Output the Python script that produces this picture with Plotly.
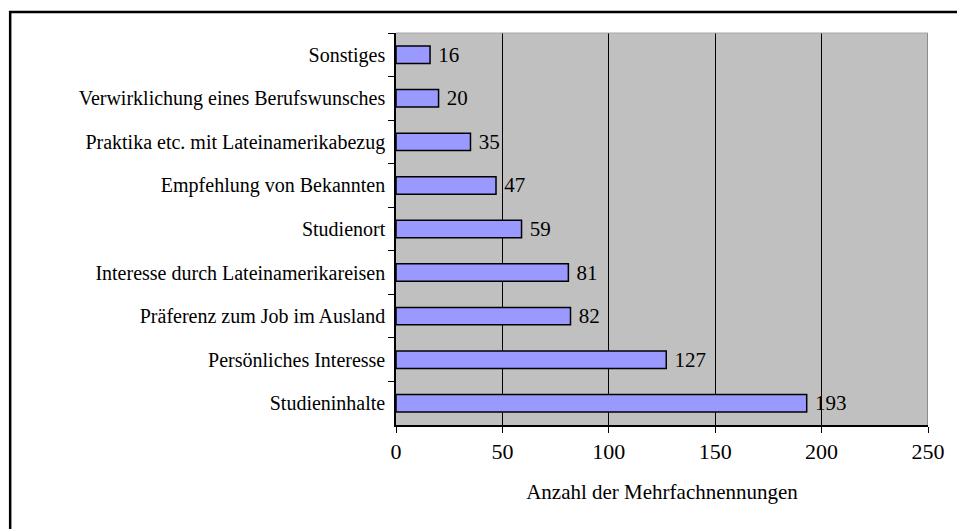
import plotly.graph_objects as go

categories = [
    "Sonstiges",
    "Verwirklichung eines Berufswunsches",
    "Praktika etc. mit Lateinamerikabezug",
    "Empfehlung von Bekannten",
    "Studienort",
    "Interesse durch Lateinamerikareisen",
    "Präferenz zum Job im Ausland",
    "Persönliches Interesse",
    "Studieninhalte",
]
values = [16, 20, 35, 47, 59, 81, 82, 127, 193]
x_ticks = [0, 50, 100, 150, 200, 250]
x_title = "Anzahl der Mehrfachnennungen"

FONT = "Liberation Serif, Times New Roman, serif"

fig = go.Figure(
    go.Bar(
        x=values,
        y=categories,
        orientation="h",
        marker=dict(color="#9999FF", line=dict(color="black", width=1.5)),
        texttemplate=" %{x}",
        textposition="outside",
        constraintext="none",
        textfont=dict(family=FONT, size=21, color="black"),
        cliponaxis=False,
    )
)

L, R, T, B = 396, 931, 33, 425
W, H = 957, 529

fig.update_layout(
    width=W,
    height=H,
    margin=dict(l=L, r=W - R, t=T, b=H - B, pad=0),
    paper_bgcolor="white",
    plot_bgcolor="#C0C0C0",
    bargap=0.6,
    showlegend=False,
    font=dict(family=FONT, size=20, color="black"),
    xaxis=dict(
        range=[0, 250],
        tickvals=x_ticks,
        ticktext=[str(t) for t in x_ticks],
        showgrid=True,
        gridcolor="black",
        gridwidth=1,
        zeroline=False,
        showline=True,
        linecolor="black",
        linewidth=1.5,
        ticks="outside",
        ticklen=6,
        tickcolor="black",
        tickfont=dict(family=FONT, size=22),
        title=dict(text=x_title, font=dict(family=FONT, size=21), standoff=21),
    ),
    yaxis=dict(
        autorange="reversed",
        showline=True,
        linecolor="black",
        linewidth=1.5,
        ticks="outside",
        tickson="boundaries",
        ticklen=6,
        tickcolor="black",
        tickfont=dict(family=FONT, size=20),
        showgrid=False,
        ticklabelstandoff=5,
    ),
    shapes=[
        dict(type="line", xref="x", yref="paper", x0=250, x1=250, y0=0, y1=1,
             line=dict(color="#8C8C8C", width=2)),
        dict(type="line", xref="paper", yref="paper", x0=0, x1=1, y0=1, y1=1,
             line=dict(color="#A8A8A8", width=1)),
        dict(type="rect", xref="paper", yref="paper",
             x0=(8 - L) / (R - L), x1=(1100 - L) / (R - L),
             y0=-0.6, y1=(B - 12) / (B - T),
             line=dict(color="black", width=2.5), layer="below"),
    ],
)

fig.write_html(
    "out.html",
    config={"displayModeBar": False, "responsive": False},
    post_script="document.body.style.margin='0';",
)
